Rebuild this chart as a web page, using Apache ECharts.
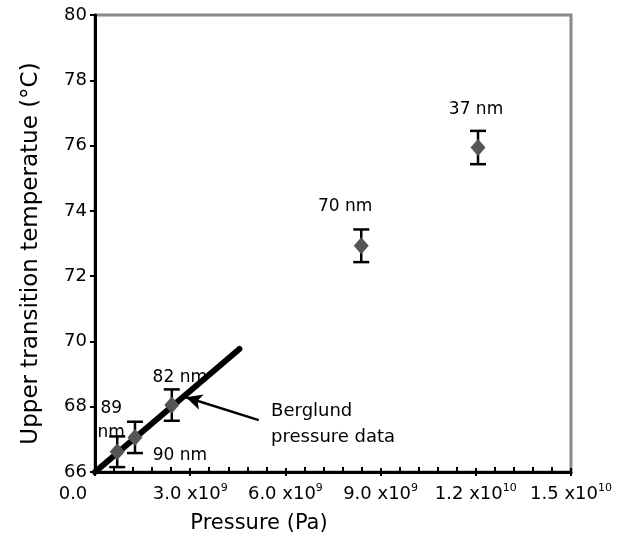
<!DOCTYPE html>
<html>
<head>
<meta charset="utf-8">
<script src="https://cdn.jsdelivr.net/npm/echarts@6/dist/echarts.min.js"></script>
<style>
  html, body { margin: 0; background: #fff; }
  #chart { width: 619px; height: 541px; }
</style>
</head>
<body>
<div id="chart"></div>
<script>
// measured points (particle size, pressure, transition temperature, half error bar)
var sizeLabels = ['89\nnm', '90 nm', '82 nm', '70 nm', '37 nm'];
var pressure = [0.70e9, 1.26e9, 2.42e9, 8.39e9, 12.07e9];
var temperature = [66.62, 67.06, 68.05, 72.93, 75.94];
var errHalf = [0.47, 0.48, 0.48, 0.5, 0.51];

// Berglund pressure data (straight line)
var berglundP = [0, 4.55e9];
var berglundT = [66.0, 69.77];

// annotation arrow + text anchor (data coords)
var arrowFrom = [5.16e9, 67.59];
var arrowTo = [2.87e9, 68.29];
var noteAnchor = [5.55e9, 67.47];
var noteText = 'Berglund\npressure data';

// x tick labels: [mantissa, exponent]
var xTickValues = [0, 3e9, 6e9, 9e9, 1.2e10, 1.5e10];
var xTickLabels = [['0.0', ''], ['3.0 x10', '9'], ['6.0 x10', '9'], ['9.0 x10', '9'], ['1.2 x10', '10'], ['1.5 x10', '10']];

// label offsets for the size labels (style only)
var labelOffsets = [[-6, -31], [45, 18], [8, -28], [-16, -39], [-2, -38]];

var FONT = 'DejaVu Sans';
var chart = echarts.init(document.getElementById('chart'));

var pts = [];
var errs = [];
for (var i = 0; i < pressure.length; i++) {
    pts.push({
        value: [pressure[i], temperature[i]],
        label: { formatter: sizeLabels[i], offset: labelOffsets[i] }
    });
    errs.push([pressure[i], temperature[i], errHalf[i]]);
}
var lineData = [];
for (var j = 0; j < berglundP.length; j++) {
    lineData.push([berglundP[j], berglundT[j]]);
}

function xLabel(v) {
    var k = xTickValues.indexOf(v);
    if (k < 0) return '';
    var t = xTickLabels[k];
    if (k === 0) return '{z|' + t[0] + '}';
    return '{b|' + t[0] + '}{s|' + t[1] + '}';
}

chart.setOption({
    animation: false,
    textStyle: { fontFamily: FONT },
    grid: {
        left: 95, right: 48, top: 15, bottom: 69,
        show: true, borderColor: '#8a8a8a', borderWidth: 3
    },
    xAxis: [{
        type: 'value', min: 0, max: 1.5e10, interval: 3e9,
        name: 'Pressure (Pa)', nameLocation: 'middle', nameGap: 41,
        nameTextStyle: { fontSize: 21, color: '#000', fontFamily: FONT, padding: [0, 148, 0, 0] },
        axisLine: { lineStyle: { color: '#000', width: 3 } },
        axisTick: { inside: false, length: 4, lineStyle: { color: '#000', width: 2 } },
        splitLine: { show: false },
        axisLabel: {
            margin: 11, color: '#000', formatter: xLabel,
            rich: {
                z: { fontSize: 18, fontFamily: FONT, color: '#000', padding: [0, 44, 0, 0], lineHeight: 22 },
                b: { fontSize: 18, fontFamily: FONT, color: '#000', lineHeight: 22 },
                s: { fontSize: 11, fontFamily: FONT, color: '#000', verticalAlign: 'top', lineHeight: 12 }
            }
        }
    }, {
        type: 'value', min: 0, max: 1.5e10, interval: 3e9, position: 'bottom',
        axisLine: { show: false },
        axisTick: { inside: true, length: 4, lineStyle: { color: '#000', width: 2 } },
        minorTick: { show: true, splitNumber: 5, length: 5, lineStyle: { color: '#000', width: 2 } },
        axisLabel: { show: false },
        splitLine: { show: false }
    }],
    yAxis: {
        type: 'value', min: 66, max: 80, interval: 2,
        name: 'Upper transition temperatue (°C)', nameLocation: 'middle', nameGap: 52,
        nameRotate: 90,
        nameTextStyle: { fontSize: 23, color: '#000', fontFamily: FONT, padding: [0, 20, 0, 0] },
        axisLine: { lineStyle: { color: '#000', width: 3 } },
        axisTick: { inside: false, length: 5, lineStyle: { color: '#000', width: 2 } },
        splitLine: { show: false },
        axisLabel: { fontSize: 18, color: '#000', margin: 8 }
    },
    series: [{
        name: 'Berglund',
        type: 'line',
        data: lineData,
        symbol: 'none',
        clip: false,
        lineStyle: { color: '#000', width: 6, cap: 'round' },
        z: 2
    }, {
        name: 'arrow',
        type: 'line',
        data: [],
        markLine: {
            silent: true,
            symbol: ['none', 'arrow'],
            symbolSize: [12, 16],
            label: { show: false },
            lineStyle: { color: '#000', width: 2.5, type: 'solid' },
            data: [[{ coord: arrowFrom }, { coord: arrowTo }]]
        },
        z: 3
    }, {
        name: 'note',
        type: 'scatter',
        symbolSize: 0,
        data: [noteAnchor],
        itemStyle: { opacity: 1 },
        label: {
            show: true, position: 'right', distance: 0,
            formatter: noteText, fontSize: 18, lineHeight: 26,
            color: '#000', fontFamily: FONT
        },
        z: 3
    }, {
        name: 'error',
        type: 'custom',
        data: errs,
        renderItem: function (params, api) {
            var x = api.value(0), y = api.value(1), e = api.value(2);
            var top = api.coord([x, y + e]);
            var bot = api.coord([x, y - e]);
            var hw = 8;
            var st = { stroke: '#000', lineWidth: 2.5 };
            return {
                type: 'group',
                children: [
                    { type: 'line', shape: { x1: top[0], y1: top[1], x2: bot[0], y2: bot[1] }, style: st },
                    { type: 'line', shape: { x1: top[0] - hw, y1: top[1], x2: top[0] + hw, y2: top[1] }, style: st },
                    { type: 'line', shape: { x1: bot[0] - hw, y1: bot[1], x2: bot[0] + hw, y2: bot[1] }, style: st }
                ]
            };
        },
        z: 4
    }, {
        name: 'size',
        type: 'scatter',
        data: pts,
        symbol: 'diamond',
        symbolSize: [15, 17],
        itemStyle: { color: '#555555', opacity: 1 },
        label: {
            show: true, position: 'inside',
            fontSize: 17, color: '#000', fontFamily: FONT, lineHeight: 24,
            textBorderWidth: 0
        },
        z: 5
    }]
});
</script>
</body>
</html>
